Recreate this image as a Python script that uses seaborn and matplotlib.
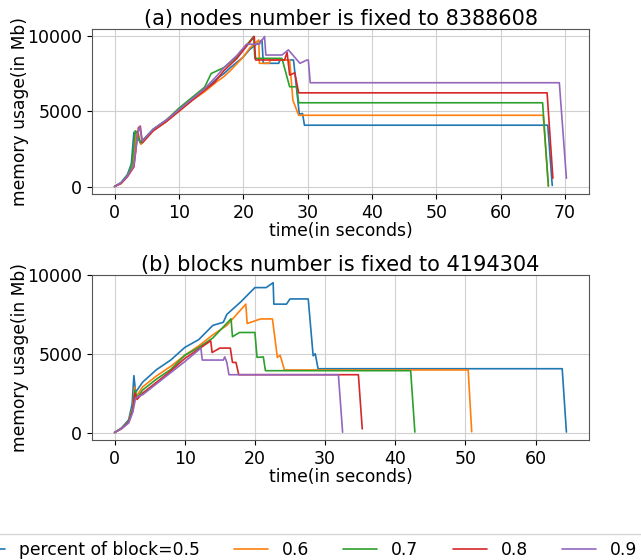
import pandas as pd
import matplotlib
matplotlib.use('Agg')
import matplotlib.pyplot as plt
import seaborn as sns

labels = ['percent of block=0.5', '0.6', '0.7', '0.8', '0.9']
colors = ['#1f77b4', '#ff7f0e', '#2ca02c', '#d62728', '#9467bd']

# (a) nodes number fixed to 8388608
a_t05 = [0, 1, 2, 2.6, 3.0, 3.3, 4.0, 6, 8, 10, 12, 14, 16, 17, 18, 20, 21, 22.9, 23.1, 25.5, 25.7, 27.8, 28.7, 29.2, 29.5, 67.3, 68.0]
a_y05 = [0, 250, 800, 1500, 3600, 3500, 2900, 3800, 4400, 5100, 5800, 6400, 7200, 7500, 7900, 8600, 9100, 9730, 8180, 8180, 8400, 8400, 4800, 4850, 4070, 4070, 70]
a_t06 = [0, 1, 2, 2.8, 3.4, 3.7, 4.1, 6, 8, 10, 12, 14, 16, 17, 18, 20, 21, 22.4, 22.5, 24.0, 24.2, 27.2, 27.7, 28.6, 66.6, 67.4]
a_y06 = [0, 200, 700, 1400, 3600, 3500, 2800, 3700, 4300, 5000, 5700, 6300, 7000, 7300, 7700, 8600, 9200, 9730, 8180, 8180, 8400, 8400, 5730, 4730, 4730, 30]
a_t07 = [0, 1, 2, 2.7, 3.2, 3.5, 4.0, 6, 8, 10, 12, 14, 15, 15.5, 17, 19, 21.6, 21.8, 26, 27.2, 28.3, 28.6, 66.5, 67.4]
a_y07 = [0, 250, 750, 1500, 3700, 3600, 2900, 3800, 4400, 5200, 5900, 6600, 7500, 7600, 7900, 8600, 9960, 8510, 8510, 6620, 6620, 5560, 5560, 30]
a_t08 = [0, 1, 2, 3.0, 3.7, 4.0, 4.3, 6, 8, 10, 12, 14, 15.5, 17, 19, 21.7, 21.9, 26.4, 26.8, 27.2, 28.0, 28.6, 67.2, 68.1]
a_y08 = [0, 200, 650, 1300, 3900, 4000, 2900, 3700, 4300, 5000, 5700, 6400, 6900, 7700, 8500, 9960, 8400, 8400, 8900, 7400, 7550, 6220, 6220, 550]
a_t09 = [0, 1, 2, 3.0, 3.6, 3.9, 4.3, 6, 8, 10, 12, 14, 16, 17, 19, 20.5, 22.5, 23.3, 23.5, 26, 27, 28.8, 29.9, 30.1, 30.4, 69.1, 70.2]
a_y09 = [0, 250, 700, 1400, 3500, 4000, 3000, 3800, 4400, 5100, 5800, 6500, 7400, 7900, 8700, 9450, 9450, 9960, 8730, 8730, 9070, 8180, 8400, 8400, 6890, 6890, 550]

# (b) blocks number fixed to 4194304
b_t05 = [0, 1, 2, 2.5, 2.75, 3.0, 4, 6, 8, 10, 12, 14, 15.5, 16, 18, 20, 21.6, 22.6, 22.7, 24.5, 25, 27.6, 28.3, 28.6, 29.0, 63.8, 64.4]
b_y05 = [0, 300, 800, 1800, 3610, 2550, 3200, 4000, 4600, 5400, 5900, 6800, 7000, 7500, 8300, 9200, 9200, 9510, 8150, 8150, 8480, 8480, 4870, 5000, 4050, 4050, 30]
b_t06 = [0, 1, 2, 2.6, 2.85, 3.1, 4, 6, 8, 10, 12, 14, 16, 18.7, 18.9, 20.8, 22.5, 23.2, 23.6, 23.8, 24.2, 50.4, 50.9]
b_y06 = [0, 250, 700, 1600, 2900, 2300, 2900, 3600, 4200, 4900, 5500, 6200, 6800, 8150, 6920, 7210, 7210, 4770, 4900, 4600, 3970, 3970, 50]
b_t07 = [0, 1, 2, 2.6, 2.9, 3.2, 4, 6, 8, 10, 12, 14, 16.6, 16.8, 17.8, 20, 20.3, 21.2, 21.5, 42.2, 42.8]
b_y07 = [0, 250, 700, 1500, 2700, 2200, 2700, 3400, 4000, 4900, 5400, 6000, 7220, 6080, 6350, 6350, 4770, 4800, 3925, 3925, 30]
b_t08 = [0, 1, 2, 2.6, 2.9, 3.2, 4, 6, 8, 10, 12, 13.7, 13.9, 15, 16.5, 16.8, 17.3, 17.7, 34.75, 35.3]
b_y08 = [0, 250, 650, 1400, 2500, 2100, 2500, 3200, 3900, 4700, 5300, 5820, 5080, 5360, 5360, 4450, 4450, 3670, 3670, 230]
b_t09 = [0, 1, 2, 2.6, 3.0, 4, 6, 8, 10, 12.3, 12.5, 15.5, 15.7, 16.0, 16.3, 31.9, 32.5]
b_y09 = [0, 250, 600, 1300, 2200, 2400, 3100, 3800, 4500, 5360, 4600, 4600, 4800, 4450, 3670, 3670, 20]

series_a = [(a_t05, a_y05), (a_t06, a_y06), (a_t07, a_y07), (a_t08, a_y08), (a_t09, a_y09)]
series_b = [(b_t05, b_y05), (b_t06, b_y06), (b_t07, b_y07), (b_t08, b_y08), (b_t09, b_y09)]

sns.set_style("ticks", {'text.color': 'black', 'xtick.color': 'black', 'ytick.color': 'black',
                        'axes.labelcolor': 'black'})
plt.rcParams['font.family'] = ['DejaVu Sans']

fig = plt.figure(figsize=(6.41, 5.6), dpi=100)
ax1 = fig.add_axes([92 / 641, 1 - 194 / 560, 497 / 641, 165 / 560])
ax2 = fig.add_axes([92 / 641, 1 - 440 / 560, 497 / 641, 165 / 560])

titles = ['(a) nodes number is fixed to 8388608', '(b) blocks number is fixed to 4194304']
for ax, series, title in [(ax1, series_a, titles[0]), (ax2, series_b, titles[1])]:
    for (t, y), lab, c in zip(series, labels, colors):
        df = pd.DataFrame({'t': t, 'y': y})
        sns.lineplot(data=df, x='t', y='y', ax=ax, color=c, label=lab,
                     sort=False, estimator=None, linewidth=1.2, legend=False)
    ax.set_title(title, fontsize=15, pad=1, color='black')
    ax.set_xlabel('time(in seconds)', fontsize=12.3, labelpad=0)
    ax.set_ylabel('memory usage(in Mb)', fontsize=12.3, labelpad=-1)
    ax.tick_params(labelsize=12.5, colors='black')
    ax.grid(True, color='#d0d0d0', linewidth=0.8)
    ax.set_yticks([0, 5000, 10000])
    for s in ax.spines.values():
        s.set_color('#555555')

handles, _ = ax1.get_legend_handles_labels()
leg = fig.legend(handles, labels, loc='upper center', bbox_to_anchor=(304 / 641, 1 - 534 / 560),
                 ncol=5, fontsize=12.3, borderaxespad=0)
for txt in leg.get_texts():
    txt.set_color('black')

fig.savefig('out.png', dpi=100)
